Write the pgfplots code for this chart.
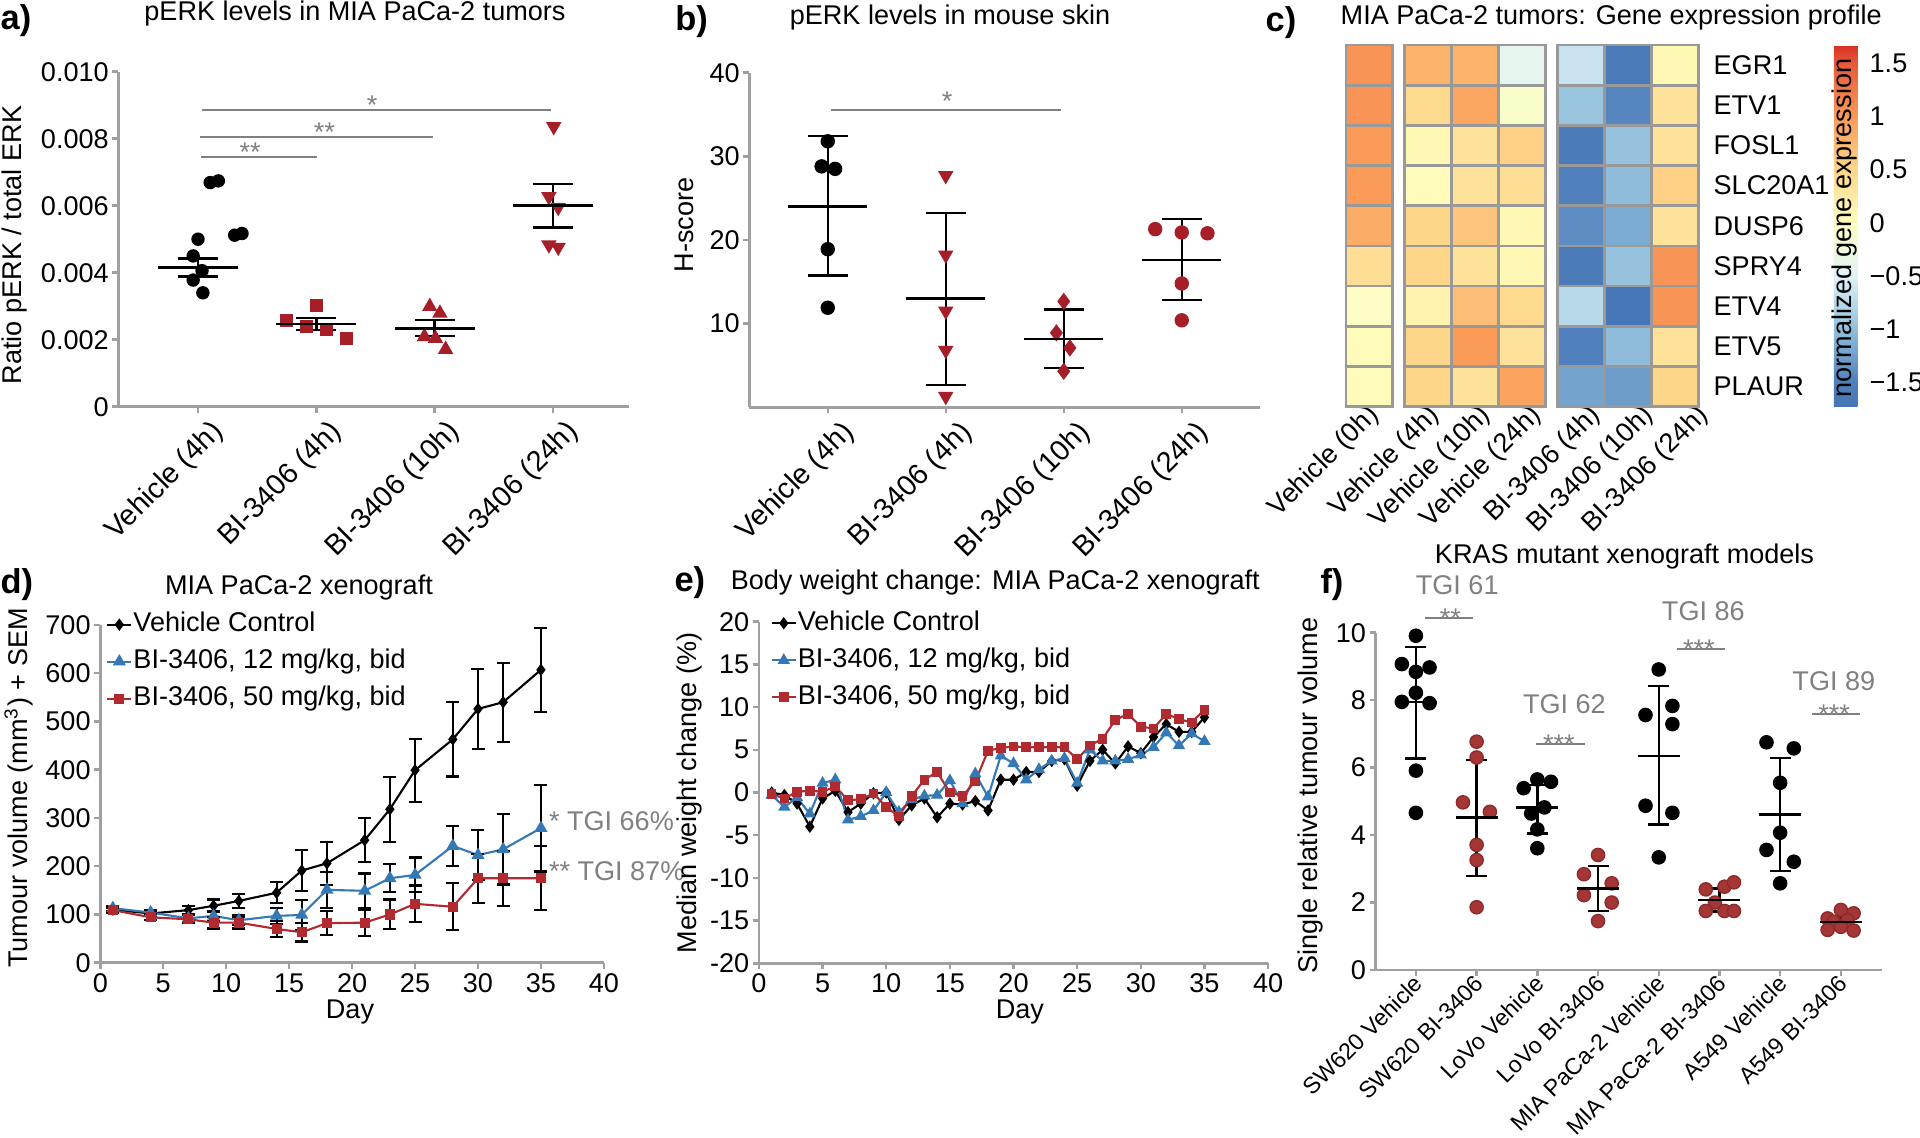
\documentclass[border=0pt]{standalone}
\usepackage{fontspec}
\setmainfont{Liberation Sans}
\usepackage{graphicx}
\usepackage{pgfplots}
\usepackage{pgfplotstable}
\pgfplotsset{compat=1.18}
\definecolor{axgray}{HTML}{A0A0A0}
\definecolor{sigray}{HTML}{808080}
\definecolor{mred}{HTML}{A61E28}
\definecolor{fred}{HTML}{A53636}
\definecolor{fredd}{HTML}{8E2A2A}
\definecolor{lblue}{HTML}{3478B4}
\definecolor{lred}{HTML}{B02A30}
\newcommand{\fs}{\fontsize{7.7}{9.2}\selectfont}
\newcommand{\fsr}{\fontsize{8.2}{9.8}\selectfont}
\newcommand{\fsm}{\fontsize{6.6}{7.8}\selectfont}
\newcommand{\pl}{\bfseries\fontsize{9.8}{11}\selectfont}
\newcommand{\rl}[1]{\rotatebox{45}{#1}}

\pgfplotsset{
  panel/.style={
    scale only axis, anchor=south west, clip=false,
    axis lines=left, axis line style={-, axgray, line width=0.7pt},
    tick align=outside, tick style={axgray, line width=0.7pt},
    major tick length=0.06cm, scaled ticks=false,
    ticklabel style={font=\fs},
    yticklabel style={anchor=east, inner sep=0pt, xshift=-0.03cm},
  },
  sumbar/.style n args={2}{only marks, mark=-, mark size=#1, mark options={line width=0.7pt, black},
    error bars/.cd, y dir=both, y explicit, error bar style={line width=0.7pt, black},
    error mark options={rotate=90, mark size=#2, line width=0.7pt, black}},
  sigline/.style={sigray, line width=0.6pt},
  dleg/.style={legend style={at={#1}, anchor=north west, draw=none, fill=none, inner sep=0pt,
      row sep=0.1cm, font=\fs, nodes={inner sep=0.3pt}},
    legend cell align=left,
    legend image code/.code={\draw[mark repeat=2,mark phase=2] plot coordinates {(0cm,0cm) (0.12cm,0cm) (0.24cm,0cm)};}},
  ebar/.style={error bars/.cd, y dir=both, y explicit, error bar style={black, line width=0.6pt},
    error mark options={rotate=90, black, mark size=0.065cm, line width=0.6pt}},
}

% ---------- data ----------
\pgfplotstableread{
x m ep em
0 0.00416 0.00027 0.00028
1 0.00247 0.00017 0.00018
2 0.00234 0.00025 0.00023
3 0.00600 0.00065 0.00065
}\sumA
\pgfplotstableread{
x m ep em
0 24.0 8.4 8.25
1 13.0 10.25 10.34
2 8.17 3.5 3.45
3 17.6 4.9 4.8
}\sumB
\pgfplotstableread{
x m ep em
0 7.95 1.63 1.68
1 4.52 1.71 1.73
2 4.82 0.66 0.77
3 2.42 0.67 0.67
4 6.35 2.07 2.03
5 2.08 0.34 0.35
6 4.61 1.68 1.67
7 1.43 0.13 0.13
}\sumF
\pgfplotstableread{
x y v
0 8 1.05
1.25 8 0.8
2.25 8 0.8
3.25 8 -0.4
4.5 8 -0.65
5.5 8 -1.65
6.5 8 0.1
0 7 1.05
1.25 7 0.45
2.25 7 0.9
3.25 7 -0.1
4.5 7 -0.95
5.5 7 -1.45
6.5 7 0.35
0 6 1.0
1.25 6 0.1
2.25 6 0.35
3.25 6 0.55
4.5 6 -1.6
5.5 6 -0.97
6.5 6 0.35
0 5 1.0
1.25 5 0.04
2.25 5 0.35
3.25 5 0.4
4.5 5 -1.5
5.5 5 -1.02
6.5 5 0.55
0 4 0.85
1.25 4 0.5
2.25 4 0.65
3.25 4 0.1
4.5 4 -1.4
5.5 4 -1.15
6.5 4 0.35
0 3 0.4
1.25 3 0.5
2.25 3 0.35
3.25 3 0.1
4.5 3 -1.6
5.5 3 -0.97
6.5 3 1.05
0 2 -0.05
1.25 2 0.15
2.25 2 0.7
3.25 2 0.45
4.5 2 -0.75
5.5 2 -1.68
6.5 2 1.05
0 1 0.05
1.25 1 0.5
2.25 1 1.0
3.25 1 0.35
4.5 1 -1.5
5.5 1 -1.02
6.5 1 0.35
0 0 0.05
1.25 0 0.5
2.25 0 0.35
3.25 0 0.92
4.5 0 -1.22
5.5 0 -1.27
6.5 0 0.5
}\hm
\pgfplotstableread{
d veh b12 b50 eveh eb12 eb50
1 110 113 109 5 5 5
4 102 104 94 5 6 6
7 109 92 90 8 8 8
9 118 97 83 13 10 12
11 128 88 83 15 10 12
14 145 97 70 22 17 16
16 191 99 63 43 31 19
18 206 151 82 45 37 25
21 254 149 83 46 36 27
23 318 175 100 67 29 31
25 399 182 122 65 36 38
28 463 242 116 77 42 49
30 526 223 175 83 52 51
32 540 235 175 82 73 57
35 607 279 175 87 90 66
}\tumour
\pgfplotstableread{
d veh b12 b50
1 0 -0.3 -0.2
2 -0.3 -1.7 -0.7
3 -1.3 -0.6 0.1
4 -4.0 -2.5 0.2
5 -0.7 1.1 0.1
6 0.2 1.5 0.7
7 -2.3 -3.2 -0.9
8 -1.3 -2.8 -0.8
9 -0.1 -2.1 -0.1
10 0 0 -1.7
11 -3.2 -2.3 -2.8
12 -1.5 -0.8 -0.4
13 -0.7 -0.4 1.5
14 -2.9 -0.3 2.4
15 -1.3 1.4 0
16 -1.4 -1.3 -0.4
17 -1.0 2.2 1.3
18 -2.1 -0.5 4.9
19 1.5 4.3 5.2
20 1.5 3.4 5.4
21 2.4 1.5 5.3
22 2.4 2.7 5.3
23 3.7 3.7 5.3
24 3.9 4.0 5.3
25 0.8 1.1 3.9
26 3.7 5.0 5.5
27 5.0 3.7 6.3
28 3.4 3.7 8.5
29 5.4 3.9 9.2
30 4.6 4.4 7.7
31 6.5 5.3 7.5
32 8.0 7.0 9.2
33 7.1 5.5 8.6
34 7.1 6.9 8.2
35 8.8 6.0 9.7
}\weight

\begin{document}
\begin{tikzpicture}
\fill[white] (0,0) rectangle (19.2,11.37);
\useasboundingbox (0,0) rectangle (19.2,11.37);

% ================= a =================
\begin{axis}[panel, at={(1.184cm,7.303cm)}, width=5.102cm, height=3.35cm,
  xmin=-0.673, xmax=3.64, ymin=0, ymax=0.01,
  xtick={0,1,2,3}, xticklabels={\rl{Vehicle (4h)},\rl{BI-3406 (4h)},\rl{BI-3406 (10h)},\rl{BI-3406 (24h)}},
  xticklabel style={font=\fsr, inner sep=0pt, anchor=north east, xshift=0.31cm, yshift=-0.05cm},
  ytick={0,0.002,0.004,0.006,0.008,0.01}, yticklabels={0,0.002,0.004,0.006,0.008,0.010}]
\addplot[only marks, mark=*, mark size=0.06cm, black] coordinates {(0.103,0.00669) (0.172,0.00674) (0,0.00500) (0.31,0.00512) (0.372,0.00517) (-0.041,0.00450) (0.034,0.00406) (-0.041,0.00378) (0.041,0.00340)};
\addplot[only marks, mark=square*, mark size=0.058cm, mred] coordinates {(1,0.00303) (0.752,0.00257) (0.921,0.00239) (1.086,0.00229) (1.252,0.00204)};
\addplot[only marks, mark=triangle*, mark size=0.075cm, mred] coordinates {(1.959,0.00299) (2.045,0.00279) (1.914,0.00209) (2.007,0.00204) (2.093,0.00171)};
\addplot[only marks, mark=triangle*, mark size=0.075cm, mred, mark options={rotate=180}] coordinates {(3.007,0.00836) (2.966,0.00627) (3.045,0.00595) (2.966,0.00483) (3.045,0.00476)};
\addplot[sumbar={0.40cm}{0.20cm}] table[x=x, y=m, y error plus=ep, y error minus=em]{\sumA};
\addplot[sigline] coordinates {(0.034,0.00886) (2.98,0.00886)};
\addplot[sigline] coordinates {(0.017,0.00806) (1.99,0.00806)};
\addplot[sigline] coordinates {(0.024,0.00746) (1.007,0.00746)};
\node[sigray, font=\fs, anchor=base, yshift=-0.05cm] at (axis cs:1.472,0.00886) {*};
\node[sigray, font=\fs, anchor=base, yshift=-0.05cm] at (axis cs:1.069,0.00806) {**};
\node[sigray, font=\fs, anchor=base, yshift=-0.05cm] at (axis cs:0.441,0.00746) {**};
\end{axis}
\node[anchor=base west, inner sep=0pt, font=\pl] at (0,11.077) {a)};
\node[anchor=base, inner sep=0pt, font=\fs] at (3.55,11.163) {pERK levels in MIA PaCa-2 tumors};
\node[rotate=90, inner sep=0pt, font=\fs] at (0.15,8.92) {Ratio pERK / total ERK};

% ================= b =================
\begin{axis}[panel, at={(7.494cm,7.297cm)}, width=5.102cm, height=3.346cm,
  xmin=-0.664, xmax=3.66, ymin=0, ymax=40,
  xtick={0,1,2,3}, xticklabels={\rl{Vehicle (4h)},\rl{BI-3406 (4h)},\rl{BI-3406 (10h)},\rl{BI-3406 (24h)}},
  xticklabel style={font=\fsr, inner sep=0pt, anchor=north east, xshift=0.32cm, yshift=-0.05cm},
  ytick={10,20,30,40}, yticklabels={10,20,30,40}]
\addplot[only marks, mark=*, mark size=0.065cm, black] coordinates {(0,31.8) (-0.052,28.8) (0.0625,28.5) (0,18.9) (0,11.9)};
\addplot[only marks, mark=triangle*, mark size=0.075cm, mred, mark options={rotate=180}] coordinates {(1,27.7) (1,18.2) (1,11.5) (1,6.8) (1,1.3)};
\addplot[only marks, mark=diamond*, mark size=0.075cm, mred] coordinates {(2,12.66) (1.9375,8.9) (2.052,7.1) (2,4.3)};
\addplot[only marks, mark=*, mark size=0.065cm, mred] coordinates {(2.775,21.3) (3,20.9) (3.218,20.8) (3,14.8) (3,10.4)};
\addplot[sumbar={0.395cm}{0.20cm}] table[x=x, y=m, y error plus=ep, y error minus=em]{\sumB};
\addplot[sigline] coordinates {(0.028,35.5) (1.98,35.5)};
\node[sigray, font=\fs, anchor=base, yshift=0cm] at (axis cs:1.012,35.5) {*};
\end{axis}
\node[anchor=base west, inner sep=0pt, font=\pl] at (6.747,11.063) {b)};
\node[anchor=base, inner sep=0pt, font=\fs] at (9.50,11.12) {pERK levels in mouse skin};
\node[rotate=90, inner sep=0pt, font=\fs] at (6.84,9.12) {H-score};

% ================= c =================
\begin{axis}[scale only axis, anchor=south west, at={(13.458cm,7.303cm)}, width=3.525cm, height=3.617cm,
  xmin=-0.5, xmax=7, ymin=-0.5, ymax=8.5, clip=false,
  axis line style={draw=none}, major tick length=0pt, tick style={draw=none},
  xtick={0,1.25,2.25,3.25,4.5,5.5,6.5},
  xticklabels={\rl{Vehicle (0h)},\rl{Vehicle (4h)}\hspace*{-0.02cm},\rl{Vehicle (10h)}\hspace*{-0.06cm},\rl{Vehicle (24h)}\hspace*{-0.10cm},\rl{BI-3406 (4h)}\hspace*{-0.10cm},\rl{BI-3406 (10h)}\hspace*{-0.16cm},\rl{BI-3406 (24h)}\hspace*{-0.24cm}},
  xticklabel style={font=\fs, inner sep=0pt, anchor=north east, xshift=0.15cm, yshift=0.047cm},
  ytick={0,1,2,3,4,5,6,7,8}, yticklabels={PLAUR,ETV5,ETV4,SPRY4,DUSP6,SLC20A1,FOSL1,ETV1,EGR1},
  yticklabel pos=right,
  yticklabel style={font=\fs, anchor=west, inner sep=0pt, xshift=0.147cm},
  colormap={hm}{rgb255(0pt)=(69,117,180) rgb255(23pt)=(80,128,188) rgb255(73pt)=(145,191,219) rgb255(123pt)=(224,243,248) rgb255(173pt)=(255,255,191) rgb255(223pt)=(254,214,138) rgb255(273pt)=(250,155,88) rgb255(323pt)=(232,88,58) rgb255(340pt)=(215,48,39)},
  point meta min=-1.73, point meta max=1.67,
  colorbar,
  colorbar style={at={(parent axis.north east)}, anchor=north west, xshift=1.055cm,
    scale only axis, width=0.237cm, height=3.617cm,
    axis line style={draw=none}, major tick length=0pt, tick style={draw=none},
    ytick={-1.5,-1,-0.5,0,0.5,1,1.5}, yticklabels={−1.5,−1,−0.5,0,0.5,1,1.5},
    yticklabel style={font=\fs, anchor=west, inner sep=0pt, xshift=0.115cm}},
  ]
\addplot[scatter, only marks, mark=square*, mark size=0.201cm, point meta=explicit,
  scatter/use mapped color={draw=gray!80, fill=mapped color},
  mark options={xscale=1.169, line width=0.75pt}] table[x=x, y=y, meta=v]{\hm};
\end{axis}
\node[anchor=base west, inner sep=0pt, font=\pl] at (12.65,11.053) {c)};
\node[anchor=base, inner sep=0pt, font=\fs] at (16.112,11.12) {MIA PaCa-2 tumors: Gene expression profile};
\node[rotate=90, inner sep=0pt, font=\fs] at (18.446,9.09) {normalized gene expression};

% ================= d =================
\begin{axis}[panel, dleg={(0.0105,1.043)}, at={(1.003cm,1.743cm)}, width=5.036cm, height=3.377cm,
  xmin=0, xmax=40, ymin=0, ymax=700,
  xtick={0,5,...,40}, xticklabels={0,5,10,15,20,25,30,35,40},
  xticklabel style={font=\fs, anchor=north, inner sep=0pt, yshift=-0.04cm},
  ytick={0,100,...,700}, yticklabels={0,100,200,300,400,500,600,700}]
\addplot[black, line width=0.6pt, mark=diamond*, mark size=0.045cm, ebar]
  table[x=d, y=veh, y error=eveh]{\tumour};
\addlegendentry{Vehicle Control}
\addplot[lblue, line width=0.6pt, mark=triangle*, mark size=0.055cm, ebar]
  table[x=d, y=b12, y error=eb12]{\tumour};
\addlegendentry{BI-3406, 12 mg/kg, bid}
\addplot[lred, line width=0.6pt, mark=square*, mark size=0.04cm, ebar]
  table[x=d, y=b50, y error=eb50]{\tumour};
\addlegendentry{BI-3406, 50 mg/kg, bid}
\end{axis}
\node[anchor=base west, inner sep=0pt, font=\pl] at (0,5.437) {d)};
\node[anchor=base, inner sep=0pt, font=\fs] at (2.99,5.42) {MIA PaCa-2 xenograft};
\node[rotate=90, inner sep=0pt, font=\fs] at (0.187,3.49) {Tumour volume (mm\textsuperscript{3}) + SEM};
\node[anchor=base, inner sep=0pt, font=\fs] at (3.50,1.19) {Day};
\node[anchor=base west, inner sep=0pt, font=\fs, text=sigray] at (5.483,3.07) {* TGI 66\%};
\node[anchor=base west, inner sep=0pt, font=\fs, text=sigray] at (5.483,2.57) {** TGI 87\%};

% ================= e =================
\begin{axis}[panel, dleg={(0.0218,1.037)}, at={(7.589cm,1.737cm)}, width=5.092cm, height=3.416cm,
  xmin=0, xmax=40, ymin=-20, ymax=20,
  xtick={0,5,...,40}, xticklabels={0,5,10,15,20,25,30,35,40},
  xticklabel style={font=\fs, anchor=north, inner sep=0pt, yshift=-0.04cm},
  ytick={-20,-15,...,20}, yticklabels={-20,-15,-10,-5,0,5,10,15,20}]
\addplot[black, line width=0.6pt, mark=diamond*, mark size=0.045cm] table[x=d, y=veh]{\weight};
\addlegendentry{Vehicle Control}
\addplot[lblue, line width=0.6pt, mark=triangle*, mark size=0.05cm] table[x=d, y=b12]{\weight};
\addlegendentry{BI-3406, 12 mg/kg, bid}
\addplot[lred, line width=0.6pt, mark=square*, mark size=0.038cm] table[x=d, y=b50]{\weight};
\addlegendentry{BI-3406, 50 mg/kg, bid}
\end{axis}
\node[anchor=base west, inner sep=0pt, font=\pl] at (6.738,5.453) {e)};
\node[anchor=base, inner sep=0pt, font=\fs] at (9.953,5.47) {Body weight change: MIA PaCa-2 xenograft};
\node[rotate=90, inner sep=0pt, font=\fs] at (6.896,3.44) {Median weight change (\%)};
\node[anchor=base, inner sep=0pt, font=\fs] at (10.198,1.19) {Day};

% ================= f =================
\begin{axis}[panel, at={(13.757cm,1.67cm)}, width=5.058cm, height=3.373cm,
  xmin=-0.662, xmax=7.67, ymin=0, ymax=10,
  xtick={0,1,...,7},
  xticklabels={\rl{SW620 Vehicle},\rl{SW620 BI-3406},\rl{LoVo Vehicle},\rl{LoVo BI-3406},\rl{MIA PaCa-2 Vehicle},\rl{MIA PaCa-2 BI-3406},\rl{A549 Vehicle},\rl{A549 BI-3406}},
  xticklabel style={font=\fsm, inner sep=0pt, anchor=north east, xshift=0.09cm, yshift=0.03cm},
  ytick={0,2,4,6,8,10}, yticklabels={0,2,4,6,8,10}]
\addplot[only marks, mark=*, mark size=0.066cm, black] coordinates {(0,9.91) (-0.232,9.07) (0.225,8.97) (0,8.84) (0,8.22) (-0.232,7.95) (0.225,7.91) (0,5.91) (0,4.66)
 (2,5.65) (1.775,5.39) (2.225,5.58) (1.9,4.64) (2.116,4.82) (2,4.17) (2,3.61)
 (4,8.91) (3.782,7.56) (4.225,7.83) (4.225,7.29) (3.782,4.87) (4.225,4.66) (4,3.34)
 (5.775,6.75) (6.225,6.57) (6,5.55) (6,4.07) (5.775,3.56) (6.225,3.21) (6,2.57)};
\addplot[only marks, mark=*, mark size=0.066cm, draw=fredd, fill=fred, mark options={line width=0.4pt}] coordinates {(1,6.77) (1,6.30) (0.775,4.97) (1.218,4.69) (1,3.71) (1,3.26) (1,1.86)
 (3,3.41) (2.768,2.84) (3.225,2.57) (2.768,2.22) (3.225,2.0) (3,1.45)
 (4.775,2.39) (5.082,2.47) (5.239,2.6) (4.925,2.0) (4.775,1.75) (5.082,1.75) (5.239,1.75)
 (7,1.78) (6.782,1.53) (7.21,1.68) (6.884,1.43) (7.109,1.48) (6.782,1.19) (7,1.28) (7.21,1.17)};
\addplot[sumbar={0.21cm}{0.105cm}] table[x=x, y=m, y error plus=ep, y error minus=em]{\sumF};
\addplot[sigline] coordinates {(0.157,10.43) (0.942,10.43)};
\addplot[sigline] coordinates {(1.986,6.69) (2.785,6.69)};
\addplot[sigline] coordinates {(4.30,9.51) (5.09,9.51)};
\addplot[sigline] coordinates {(6.53,7.58) (7.32,7.58)};
\node[sigray, font=\fs, anchor=base, yshift=-0.09cm] at (axis cs:0.567,10.43) {**};
\node[sigray, font=\fs, anchor=base, yshift=-0.09cm] at (axis cs:2.355,6.69) {***};
\node[sigray, font=\fs, anchor=base, yshift=-0.09cm] at (axis cs:4.66,9.51) {***};
\node[sigray, font=\fs, anchor=base, yshift=-0.09cm] at (axis cs:6.89,7.58) {***};
\end{axis}
\node[anchor=base west, inner sep=0pt, font=\pl] at (13.198,5.437) {f)};
\node[anchor=base, inner sep=0pt, font=\fs] at (16.245,5.737) {KRAS mutant xenograft models};
\node[rotate=90, inner sep=0pt, font=\fs] at (13.104,3.413) {Single relative tumour volume};
\node[anchor=base, inner sep=0pt, font=\fs, text=sigray] at (14.572,5.42) {TGI 61};
\node[anchor=base, inner sep=0pt, font=\fs, text=sigray] at (15.644,4.237) {TGI 62};
\node[anchor=base, inner sep=0pt, font=\fs, text=sigray] at (17.033,5.16) {TGI 86};
\node[anchor=base, inner sep=0pt, font=\fs, text=sigray] at (18.338,4.463) {TGI 89};
\end{tikzpicture}
\end{document}
